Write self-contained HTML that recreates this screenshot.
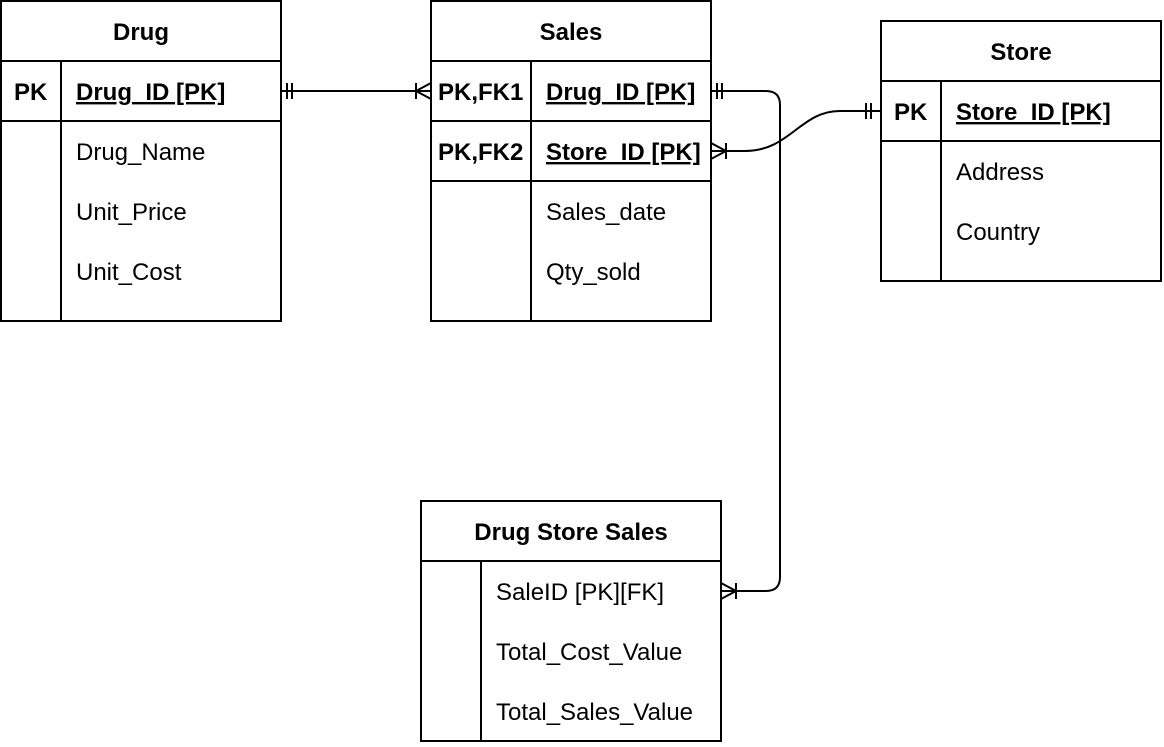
<!DOCTYPE html>
<html><head><style>
body{margin:0;width:1164px;height:742px;background:#fff;font-family:"Liberation Sans",Arial,sans-serif;}
svg text{font-family:"Liberation Sans",Arial,sans-serif;font-size:24px;fill:#000;}
.b{font-weight:bold}
</style></head><body>
<svg width="1164" height="742" xmlns="http://www.w3.org/2000/svg">
<g fill="none" stroke="#000" stroke-width="2">
<rect x="1" y="1" width="280" height="320" fill="#fff"/>
<line x1="1" y1="61" x2="281" y2="61"/><line x1="1" y1="121" x2="281" y2="121"/>
<line x1="61" y1="61" x2="61" y2="321"/>
<rect x="431" y="1" width="280" height="320" fill="#fff"/>
<line x1="431" y1="61" x2="711" y2="61"/><line x1="431" y1="121" x2="711" y2="121"/><line x1="431" y1="181" x2="711" y2="181"/>
<line x1="531" y1="61" x2="531" y2="321"/>
<rect x="881" y="21" width="280" height="260" fill="#fff"/>
<line x1="881" y1="81" x2="1161" y2="81"/><line x1="881" y1="141" x2="1161" y2="141"/>
<line x1="941" y1="81" x2="941" y2="281"/>
<rect x="421" y="501" width="300" height="240" fill="#fff"/>
<line x1="421" y1="561" x2="721" y2="561"/>
<line x1="481" y1="561" x2="481" y2="741"/>
<path d="M281 91 H431"/>
<path d="M287 83 V99 M292 83 V99"/>
<path d="M431 83 L416 91 L431 99 M416 83 V99"/>
<path d="M711 91 H766 Q780 91 780 105 V577 Q780 591 766 591 H721"/>
<path d="M717 83 V99 M722 83 V99"/>
<path d="M721 583 L736 591 L721 599 M736 583 V599"/>
<path d="M711 151 H745 C790 151 800 111 840 111 H881"/>
<path d="M866 103 V119 M871 103 V119"/>
<path d="M711 143 L726 151 L711 159 M726 143 V159"/>
</g>
<text x="141" y="40" text-anchor="middle" class="b">Drug</text>
<text x="14" y="100" class="b">PK</text>
<text x="76" y="100" class="b" text-decoration="underline">Drug_ID [PK]</text>
<text x="76" y="160">Drug_Name</text>
<text x="76" y="220">Unit_Price</text>
<text x="76" y="280">Unit_Cost</text>
<text x="571" y="40" text-anchor="middle" class="b">Sales</text>
<text x="438" y="100" class="b">PK,FK1</text>
<text x="438" y="160" class="b">PK,FK2</text>
<text x="546" y="100" class="b" text-decoration="underline">Drug_ID [PK]</text>
<text x="546" y="160" class="b" text-decoration="underline">Store_ID [PK]</text>
<text x="546" y="220">Sales_date</text>
<text x="546" y="280">Qty_sold</text>
<text x="1021" y="60" text-anchor="middle" class="b">Store</text>
<text x="894" y="120" class="b">PK</text>
<text x="956" y="120" class="b" text-decoration="underline">Store_ID [PK]</text>
<text x="956" y="180">Address</text>
<text x="956" y="240">Country</text>
<text x="571" y="540" text-anchor="middle" class="b">Drug Store Sales</text>
<text x="496" y="600">SaleID [PK][FK]</text>
<text x="496" y="660">Total_Cost_Value</text>
<text x="496" y="720">Total_Sales_Value</text>
</svg>
</body></html>
